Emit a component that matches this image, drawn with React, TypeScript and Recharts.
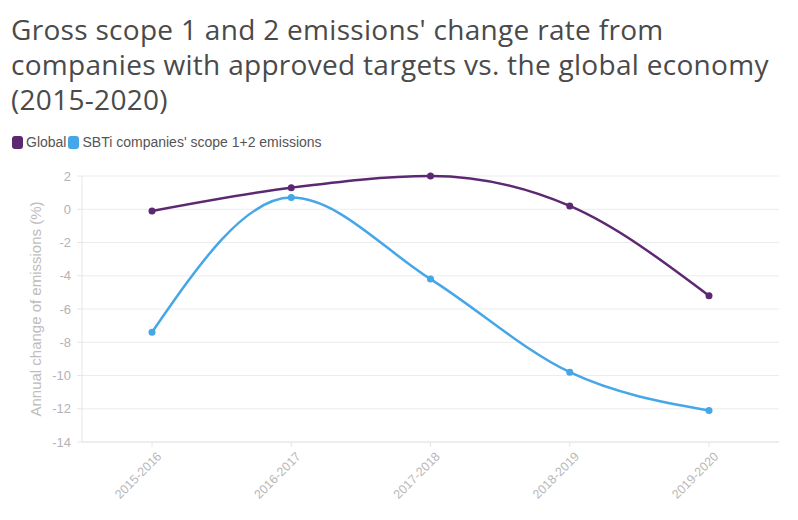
import React from 'react';
import { CartesianGrid, Line, LineChart, XAxis, YAxis } from 'recharts';

const periods = ['2015-2016', '2016-2017', '2017-2018', '2018-2019', '2019-2020'];
const globalChange = [-0.1, 1.3, 2.0, 0.2, -5.2];
const sbtiChange = [-7.4, 0.7, -4.2, -9.8, -12.1];
const yTicks = [2, 0, -2, -4, -6, -8, -10, -12, -14];

const GLOBAL_COLOR = '#5d2872';
const SBTI_COLOR = '#45a6e8';
const SANS = "'Liberation Sans', Arial, sans-serif";

const data = periods.map((period, i) => ({
  period,
  global: globalChange[i],
  sbti: sbtiChange[i],
}));

const AxisTitle = (props: any) => {
  const { viewBox } = props;
  const cy = viewBox.y + viewBox.height / 2;
  return (
    <text
      x={35}
      y={cy}
      transform={`rotate(-90 35 ${cy})`}
      textAnchor="middle"
      dominantBaseline="central"
      fill="#bdbdbd"
      fontSize={15}
      fontFamily={SANS}
    >
      Annual change of emissions (%)
    </text>
  );
};

function LegendItem({ color, label }: { color: string; label: string }) {
  return (
    <span style={{ display: 'inline-flex', alignItems: 'center', marginRight: 2 }}>
      <span
        style={{
          display: 'inline-block',
          width: 11,
          height: 13,
          borderRadius: 3,
          background: color,
          marginRight: 3,
        }}
      />
      {label}
    </span>
  );
}

export default function App() {
  return (
    <div
      style={{
        position: 'absolute',
        left: 0,
        top: 0,
        width: 798,
        height: 520,
        background: '#fff',
        overflow: 'hidden',
      }}
    >
      <div
        style={{
          position: 'absolute',
          left: 11,
          top: 12,
          width: 790,
          fontFamily: "'Open Sans', sans-serif",
          fontSize: 28,
          letterSpacing: 0.3,
          lineHeight: '35px',
          color: '#4a4a4a',
          whiteSpace: 'nowrap',
        }}
      >
        Gross scope 1 and 2 emissions' change rate from
        <br />
        companies with approved targets vs. the global economy
        <br />
        (2015-2020)
      </div>
      <div
        style={{
          position: 'absolute',
          left: 12,
          top: 134,
          fontFamily: SANS,
          fontSize: 14,
          color: '#555',
          display: 'flex',
        }}
      >
        <LegendItem color={GLOBAL_COLOR} label="Global" />
        <LegendItem color={SBTI_COLOR} label="SBTi companies' scope 1+2 emissions" />
      </div>
      <div style={{ position: 'absolute', left: 0, top: 160 }}>
        <LineChart width={798} height={360} data={data} margin={{ top: 16, right: 19, bottom: 8, left: 22 }}>
          <CartesianGrid vertical={false} stroke="#ececec" />
          <XAxis
            dataKey="period"
            height={70}
            interval={0}
            padding={{ left: 70, right: 70 }}
            stroke="#e6e6e6"
            tickSize={5}
            tickMargin={4}
            angle={-45}
            textAnchor="end"
            tick={{ fill: '#b8b8b8', fontSize: 12.5, fontFamily: SANS, dx: 4 }}
          />
          <YAxis
            width={60}
            domain={[-14, 2]}
            ticks={yTicks}
            interval={0}
            stroke="#e6e6e6"
            tickSize={5}
            tickMargin={6}
            tick={{ fill: '#b3b3b3', fontSize: 13, fontFamily: SANS }}
            label={<AxisTitle />}
          />
          <Line
            type="monotone"
            dataKey="global"
            stroke={GLOBAL_COLOR}
            strokeWidth={2.5}
            dot={{ r: 3.5, fill: GLOBAL_COLOR, stroke: GLOBAL_COLOR, strokeWidth: 0 }}
            activeDot={false}
            isAnimationActive={false}
          />
          <Line
            type="monotone"
            dataKey="sbti"
            stroke={SBTI_COLOR}
            strokeWidth={2.5}
            dot={{ r: 3.5, fill: SBTI_COLOR, stroke: SBTI_COLOR, strokeWidth: 0 }}
            activeDot={false}
            isAnimationActive={false}
          />
        </LineChart>
      </div>
    </div>
  );
}
